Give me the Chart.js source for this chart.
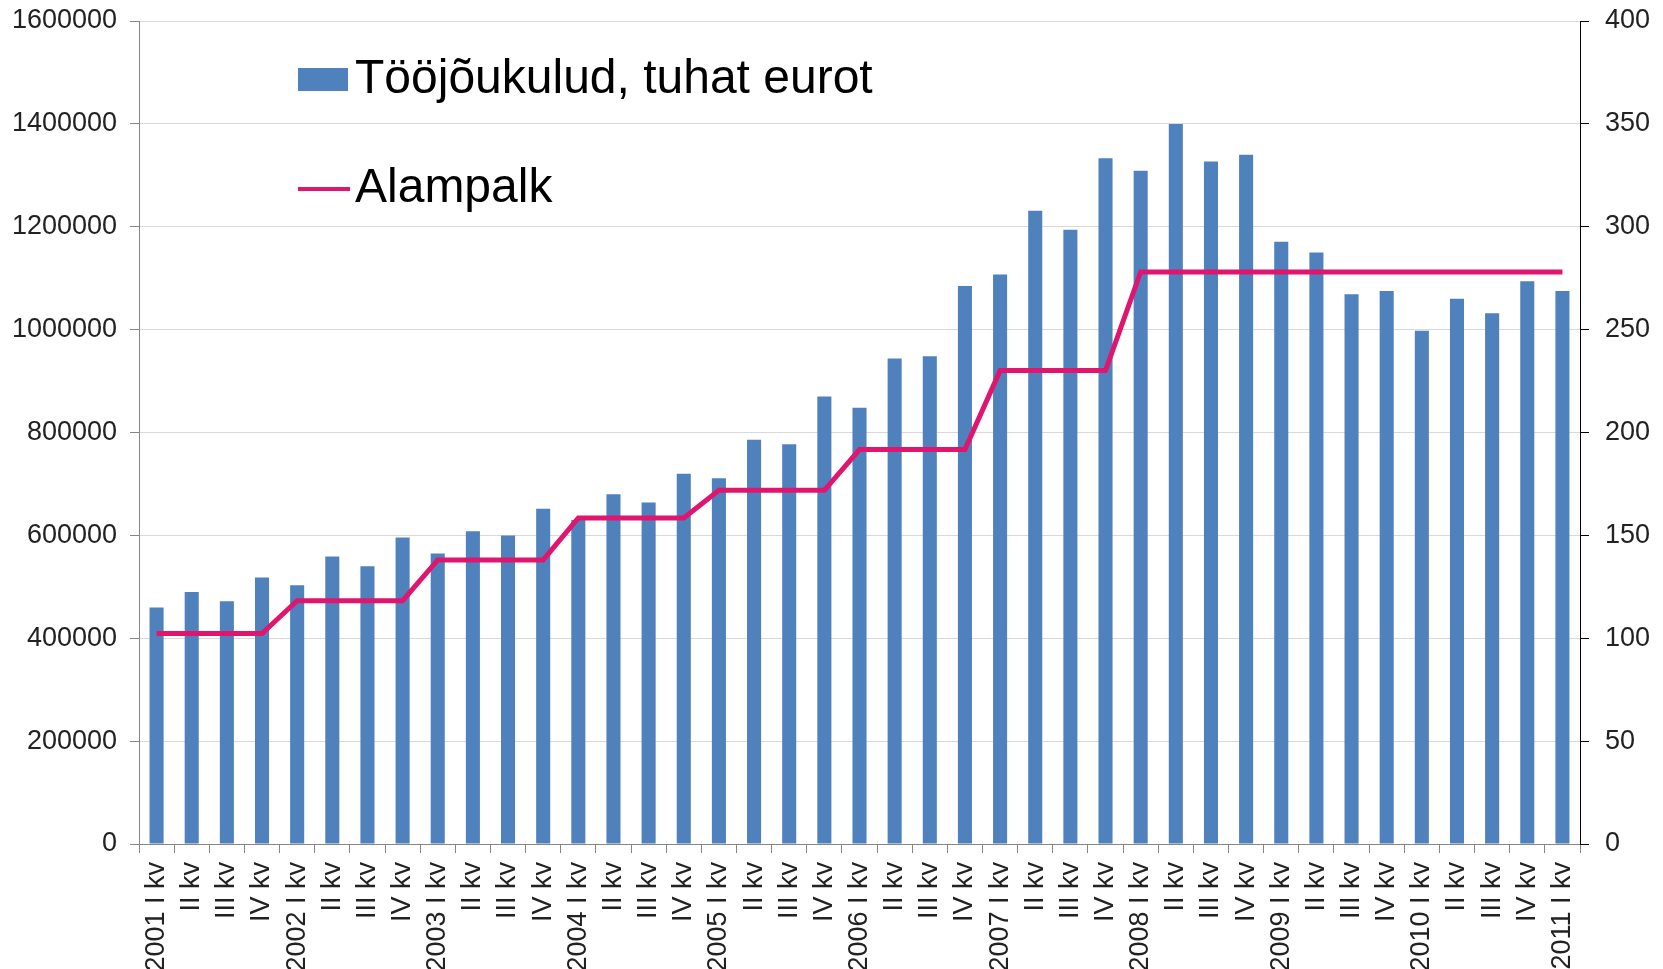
<!DOCTYPE html>
<html>
<head>
<meta charset="utf-8">
<script src="https://cdn.jsdelivr.net/npm/chart.js@4.4.1/dist/chart.umd.min.js"></script>
<style>
  html, body { margin: 0; padding: 0; background: #fff; overflow: hidden; }
</style>
</head>
<body>
<canvas id="chart" width="1663" height="969"></canvas>
<script>
const categories = [
  "2001 I kv", "II kv", "III kv", "IV kv",
  "2002 I kv", "II kv", "III kv", "IV kv",
  "2003 I kv", "II kv", "III kv", "IV kv",
  "2004 I kv", "II kv", "III kv", "IV kv",
  "2005 I kv", "II kv", "III kv", "IV kv",
  "2006 I kv", "II kv", "III kv", "IV kv",
  "2007 I kv", "II kv", "III kv", "IV kv",
  "2008 I kv", "II kv", "III kv", "IV kv",
  "2009 I kv", "II kv", "III kv", "IV kv",
  "2010 I kv", "II kv", "III kv", "IV kv",
  "2011 I kv"
];

// Tööjõukulud, tuhat eurot (left axis)
const laborCosts = [
  460000, 490000, 472000, 518000,
  503000, 559000, 540000, 596000,
  565000, 608000, 600000, 652000,
  630000, 680000, 664000, 720000,
  711000, 786000, 777000, 870000,
  848000, 944000, 948000, 1085000,
  1107000, 1231000, 1194000, 1333000,
  1309000, 1400000, 1327000, 1340000,
  1171000, 1150000, 1069000, 1075000,
  998000, 1060000, 1032000, 1094000,
  1075000
];

// Alampalk, eurot (right axis)
const minWage = [
  102.26, 102.26, 102.26, 102.26,
  118.24, 118.24, 118.24, 118.24,
  138.05, 138.05, 138.05, 138.05,
  158.50, 158.50, 158.50, 158.50,
  171.92, 171.92, 171.92, 171.92,
  191.73, 191.73, 191.73, 191.73,
  230.08, 230.08, 230.08, 230.08,
  278.02, 278.02, 278.02, 278.02,
  278.02, 278.02, 278.02, 278.02,
  278.02, 278.02, 278.02, 278.02,
  278.02
];

const barColor = "#4F81BD";
const lineColor = "#E0166E";
const tickFont = { family: "Liberation Sans, Arial, sans-serif", size: 27 };

// legend drawn inside the plot, top left
const insideLegend = {
  id: "insideLegend",
  afterDraw(chart) {
    const ctx = chart.ctx;
    const ds = chart.data.datasets;
    ctx.save();
    ctx.font = "48px Liberation Sans, Arial, sans-serif";
    ctx.textBaseline = "middle";

    ctx.fillStyle = ds[1].backgroundColor;
    ctx.fillRect(298, 68, 50, 23);
    ctx.fillStyle = "#000";
    ctx.fillText(ds[1].label, 355, 80);

    ctx.strokeStyle = ds[0].borderColor;
    ctx.lineWidth = 4;
    ctx.beginPath();
    ctx.moveTo(298, 189);
    ctx.lineTo(350, 189);
    ctx.stroke();
    ctx.fillText(ds[0].label, 355, 189);
    ctx.restore();
  }
};

new Chart(document.getElementById("chart"), {
  type: "bar",
  data: {
    labels: categories,
    datasets: [
      {
        type: "line",
        label: "Alampalk",
        data: minWage,
        yAxisID: "y1",
        borderColor: lineColor,
        borderWidth: 5,
        pointRadius: 0,
        tension: 0,
        fill: false,
        order: 0
      },
      {
        label: "Tööjõukulud, tuhat eurot",
        data: laborCosts,
        yAxisID: "y",
        backgroundColor: barColor,
        barPercentage: 0.4,
        categoryPercentage: 1.0,
        order: 1
      }
    ]
  },
  options: {
    responsive: false,
    animation: false,
    devicePixelRatio: 1,
    layout: { padding: 0 },
    plugins: {
      legend: { display: false },
      tooltip: { enabled: false }
    },
    scales: {
      x: {
        offset: true,
        grid: {
          display: true,
          offset: true,
          drawOnChartArea: false,
          drawTicks: true,
          tickLength: 9,
          color: "#868686"
        },
        border: { color: "#868686" },
        ticks: {
          autoSkip: false,
          maxRotation: 90,
          minRotation: 90,
          padding: 9,
          color: "#222",
          font: tickFont
        },
        afterFit(scale) { scale.height = 125; }
      },
      y: {
        position: "left",
        min: 0,
        max: 1600000,
        grid: {
          color: "#D9D9D9",
          tickColor: "#868686",
          tickLength: 9
        },
        border: { color: "#868686" },
        ticks: {
          stepSize: 200000,
          padding: 13,
          color: "#222",
          font: tickFont,
          callback: (v) => String(v)
        },
        afterFit(scale) {
          scale.width = 139;
          scale.paddingTop = 21;
          scale.paddingBottom = 0;
        }
      },
      y1: {
        position: "right",
        min: 0,
        max: 400,
        grid: {
          drawOnChartArea: false,
          tickColor: "#000",
          tickLength: 9
        },
        border: { color: "#000" },
        ticks: {
          stepSize: 50,
          padding: 16,
          color: "#222",
          font: tickFont
        },
        afterFit(scale) {
          scale.width = 83;
          scale.paddingTop = 21;
          scale.paddingBottom = 0;
        }
      }
    }
  },
  plugins: [insideLegend]
});
</script>
</body>
</html>
